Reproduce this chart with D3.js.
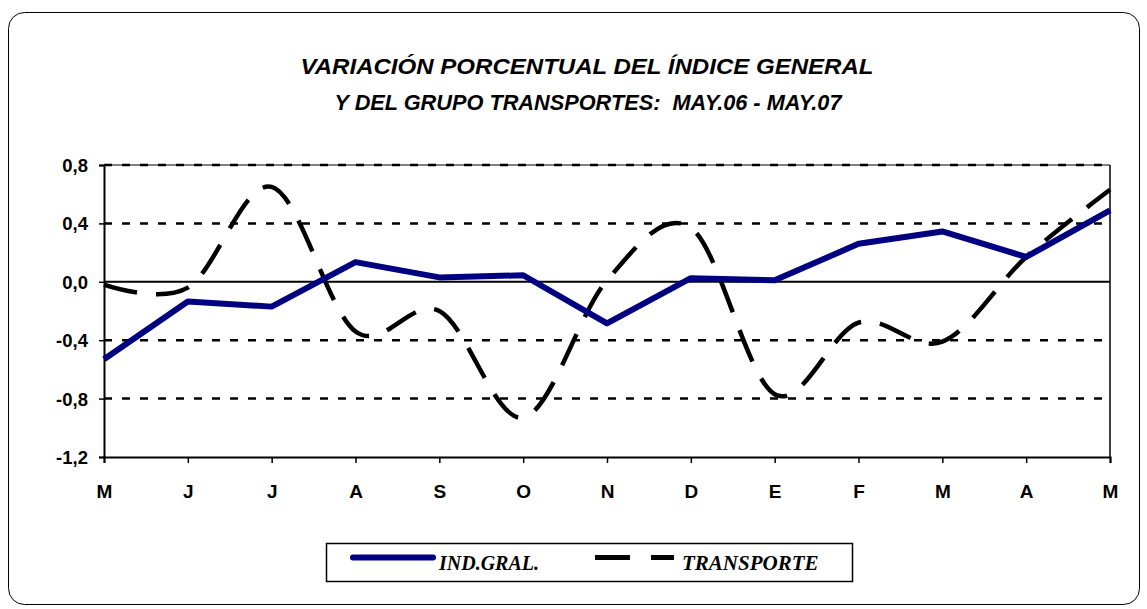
<!DOCTYPE html>
<html><head><meta charset="utf-8">
<script src="https://cdn.jsdelivr.net/npm/d3@7"></script>
<style>body{margin:0;background:#fff}svg{display:block}</style>
</head><body>
<svg id="c" width="1147" height="609"></svg>
<script>
const months = ["M","J","J","A","S","O","N","D","E","F","M","A","M"];
const indGral = [-0.53,-0.135,-0.17,0.135,0.03,0.045,-0.285,0.025,0.01,0.26,0.345,0.17,0.49];
const transporte = [-0.02,-0.04,0.65,-0.34,-0.2,-0.93,0.01,0.37,-0.77,-0.28,-0.41,0.17,0.63];
const yTicks = [0.8,0.4,0.0,-0.4,-0.8,-1.2];
const titleLines = ["VARIACIÓN PORCENTUAL DEL ÍNDICE GENERAL","Y DEL GRUPO TRANSPORTES:  MAY.06 - MAY.07"];
const legendLabels = ["IND.GRAL.","TRANSPORTE"];

const svg = d3.select("#c");
svg.append("rect").attr("x",8.5).attr("y",12.5).attr("width",1131).attr("height",592)
  .attr("rx",16).attr("fill","#fff").attr("stroke","#000").attr("stroke-width",1);

const L=104,R=1110,T=165,B=457;
const x = d3.scalePoint().domain(d3.range(months.length)).range([L,R]);
const y = d3.scaleLinear().domain([-1.2,0.8]).range([B,T]);

// title
const titleW = [573,507];
svg.append("g").selectAll("text").data(titleLines).join("text")
  .attr("x",(d,i)=>i?588:587).attr("y",(d,i)=>74+i*36).attr("text-anchor","middle")
  .attr("font-family","Liberation Sans, Arial, sans-serif").attr("font-style","italic")
  .attr("font-weight","bold").attr("font-size",22).attr("fill","#000")
  .attr("textLength",(d,i)=>titleW[i]).attr("lengthAdjust","spacingAndGlyphs")
  .style("white-space","pre").text(d=>d);

// gridlines
svg.append("g").selectAll("line").data(yTicks.filter(v=>v!==0 && v!==-1.2)).join("line")
  .attr("x1",L).attr("x2",R).attr("y1",d=>y(d)).attr("y2",d=>y(d))
  .attr("stroke","#000").attr("stroke-width",2.5).attr("stroke-dasharray","8,10");
svg.append("line").attr("x1",L).attr("x2",R).attr("y1",y(0.8)).attr("y2",y(0.8)).attr("stroke","#000").attr("stroke-width",1);
svg.append("line").attr("x1",R).attr("x2",R).attr("y1",T).attr("y2",B).attr("stroke","#000").attr("stroke-width",1.5);
svg.append("line").attr("x1",L).attr("x2",R).attr("y1",y(0)).attr("y2",y(0)).attr("stroke","#000").attr("stroke-width",2);

// axes
const yAxis = svg.append("g").attr("transform",`translate(${L},0)`)
  .call(d3.axisLeft(y).tickValues(yTicks).tickSize(5).tickPadding(11).tickFormat(d=>d3.format(".1f")(d).replace(".",",").replace("−","-")));
const xAxis = svg.append("g").attr("transform",`translate(0,${B})`)
  .call(d3.axisBottom(x).tickSize(6).tickPadding(22).tickFormat(i=>months[i]));
[yAxis,xAxis].forEach(a=>{
  a.select(".domain").attr("stroke-width",2).attr("stroke","#000");
  a.selectAll(".tick line").attr("stroke-width",1.5).attr("stroke","#000");
  a.selectAll("text").attr("font-family","Liberation Sans, Arial, sans-serif")
   .attr("font-weight","bold").attr("fill","#000");
});
yAxis.selectAll("text").attr("font-size",18.5).attr("dy","0.35em");
xAxis.selectAll("text").attr("font-size",19).attr("dy","0.71em");

// series
const lineInd = d3.line().x((d,i)=>x(i)).y(d=>y(d));
const lineTr = d3.line().x((d,i)=>x(i)).y(d=>y(d)).curve(d3.curveCatmullRom.alpha(0));
svg.append("path").datum(transporte).attr("d",lineTr).attr("fill","none")
  .attr("stroke","#000").attr("stroke-width",4.5).attr("stroke-dasharray","34,19");
svg.append("path").datum(indGral).attr("d",lineInd).attr("fill","none")
  .attr("stroke","#000080").attr("stroke-width",6).attr("stroke-linejoin","round");

// legend
const lg = svg.append("g");
lg.append("rect").attr("x",326.5).attr("y",543.5).attr("width",526).attr("height",38)
  .attr("fill","#fff").attr("stroke","#000").attr("stroke-width",1.5);
lg.append("line").attr("x1",353).attr("x2",433).attr("y1",557.5).attr("y2",557.5)
  .attr("stroke","#000080").attr("stroke-width",6).attr("stroke-linecap","round");
lg.append("line").attr("x1",595).attr("x2",674).attr("y1",557.5).attr("y2",557.5)
  .attr("stroke","#000").attr("stroke-width",5).attr("stroke-dasharray","35,21");
lg.selectAll("text").data(legendLabels).join("text")
  .attr("x",(d,i)=>i?682:439).attr("y",570)
  .attr("font-family","Liberation Serif, Times New Roman, serif").attr("font-style","italic")
  .attr("font-weight","bold").attr("font-size",(d,i)=>i?21:20).attr("fill","#000").text(d=>d);
</script>
</body></html>
